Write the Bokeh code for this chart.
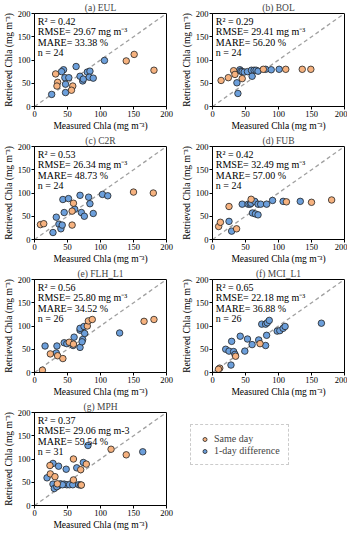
from bokeh.plotting import figure
from bokeh.models import Range1d, FixedTicker, Label, Legend, LegendItem
from bokeh.layouts import column, row
from bokeh.embed import file_html
from bokeh.resources import INLINE

FONT = "Liberation Serif"
ORANGE = "#F6B27F"
BLUE = "#6C9FDB"

# ---------------- data ----------------
titles = ["(a) EUL", "(b) BOL", "(c) C2R", "(d) FUB", "(e) FLH_L1", "(f) MCI_L1", "(g) MPH"]
r2 = ["0.42", "0.29", "0.53", "0.42", "0.56", "0.65", "0.37"]
rmse = ["29.67", "29.41", "26.34", "32.49", "25.80", "22.18", "29.06"]
rmse_unit = ["mg m⁻³", "mg m⁻³", "mg m⁻³", "mg m⁻³", "mg m⁻³", "mg m⁻³", "mg m-3"]
mare = ["33.38", "56.20", "48.73", "57.00", "34.52", "36.88", "59.54"]
n_obs = ["24", "24", "24", "24", "26", "26", "31"]
ticks = [0, 50, 100, 150, 200]
legend_labels = ["Same day", "1-day difference"]

# (a) EUL
eul_same_x = [32, 35, 34, 58, 56, 139, 151, 181]
eul_same_y = [70, 52, 44, 44, 35, 98, 112, 78]
eul_diff_x = [26, 47, 47, 44, 41, 46, 52, 63, 69, 73, 74, 80, 84, 83, 89, 106]
eul_diff_y = [26, 30, 48, 79, 75, 62, 62, 86, 65, 55, 59, 74, 76, 63, 61, 99]
# (b) BOL
bol_same_x = [13, 24, 32, 34, 45, 77, 111, 136, 149]
bol_same_y = [56, 62, 77, 69, 60, 80, 80, 80, 80]
bol_diff_x = [37, 38.5, 41.5, 43, 45, 48, 53, 59, 63, 60, 66, 69, 80.5, 89, 101]
bol_diff_y = [51, 28, 79, 76, 75, 74, 75, 78, 78, 65, 78, 76, 80, 79, 80]
# (c) C2R
c2r_same_x = [9, 14, 57, 59, 57, 150, 180]
c2r_same_y = [32, 34, 31, 78, 61, 102, 100]
c2r_diff_x = [28, 33, 37, 40, 42, 43, 45, 51.5, 61, 69, 71, 75.5, 82, 84, 89, 103, 111]
c2r_diff_y = [15, 48, 33, 23, 31, 86, 58, 88, 65, 95, 58, 50, 91, 77, 56, 97, 94]
# (d) FUB
fub_same_x = [9.3, 12, 25, 36.5, 58.5, 112, 150, 180.5]
fub_same_y = [28, 37, 71, 23, 86.5, 81, 80, 85]
fub_diff_x = [25, 29, 45, 54, 57, 58.5, 64, 60.5, 65, 69, 69, 73, 82, 91, 107, 133]
fub_diff_y = [39, 18, 76, 76, 76, 78, 82, 57, 55, 53, 76, 76, 76, 84, 82, 82]
# (e) FLH_L1
flh_same_x = [12, 24, 35, 43, 52.6, 59, 80, 81.6, 87.5, 166, 181]
flh_same_y = [5, 40, 36, 30, 65, 61, 100, 111, 114, 110, 114]
flh_diff_x = [16, 34, 33, 45, 49, 60, 58.5, 69, 69, 69, 73, 75, 76, 72, 129]
flh_diff_y = [57, 57, 42, 64, 62, 76, 58, 54, 91, 95, 71, 99, 84, 66, 85]
# (f) MCI_L1
mci_same_x = [11, 9, 35, 72]
mci_same_y = [9.4, 7, 35, 62]
mci_diff_x = [28, 20, 25, 32, 34, 29, 42, 53, 49, 60, 70, 80.5, 82, 74.6, 80.5, 83, 86, 98, 102, 107, 110, 165]
mci_diff_y = [16, 50, 46, 45, 39, 67, 78, 72, 46, 60, 70, 58, 80, 104, 104, 107, 112, 89, 90, 95, 99, 106]
# (g) MPH
mph_same_x = [23.4, 24, 31, 34.6, 59, 59, 70, 78.5, 116, 139, 71]
mph_same_y = [86, 68, 62, 46.6, 100, 55, 77, 89, 121, 109, 44]
mph_diff_x = [19, 28, 36.5, 48, 81, 74, 64, 164, 28, 30, 36, 39.5, 45, 49, 53, 58, 67, 70, 33.7, 42.4]
mph_diff_y = [59.5, 90.5, 84.5, 78, 129, 92.5, 81, 115.5, 46, 36.5, 42.5, 46.6, 46, 44.6, 44.6, 44.6, 44.6, 44, 40.5, 44.6]

panels = [
    (eul_same_x, eul_same_y, eul_diff_x, eul_diff_y),
    (bol_same_x, bol_same_y, bol_diff_x, bol_diff_y),
    (c2r_same_x, c2r_same_y, c2r_diff_x, c2r_diff_y),
    (fub_same_x, fub_same_y, fub_diff_x, fub_diff_y),
    (flh_same_x, flh_same_y, flh_diff_x, flh_diff_y),
    (mci_same_x, mci_same_y, mci_diff_x, mci_diff_y),
    (mph_same_x, mph_same_y, mph_diff_x, mph_diff_y),
]

ROW_H = 133
LEFT_W, RIGHT_W = 178, 169


def make_panel(i):
    sx, sy, dx, dy = panels[i]
    left_col = (i % 2 == 0)
    p = figure(width=LEFT_W if left_col else RIGHT_W, height=ROW_H,
               output_backend="svg", toolbar_location=None,
               x_range=Range1d(0, 200), y_range=Range1d(0, 200),
               min_border_left=30 if left_col else 32,
               min_border_right=12 if left_col else 3,
               min_border_top=0, min_border_bottom=0,
               title=titles[i])
    p.title.align = "center"
    p.title.text_font = FONT
    p.title.text_font_size = "9.5px"
    p.title.text_font_style = "normal"
    p.title.standoff = 1
    p.title.offset = 0
    p.grid.visible = False
    p.outline_line_color = "black"
    p.outline_line_width = 1
    p.outline_line_alpha = 1
    for ax in (p.xaxis[0], p.yaxis[0]):
        ax.ticker = FixedTicker(ticks=ticks)
        ax.minor_tick_line_color = None
        ax.major_tick_in = 0
        ax.major_tick_out = 3
        ax.axis_line_color = "black"
        ax.major_tick_line_color = "black"
        ax.major_label_text_font = FONT
        ax.major_label_text_font_size = "8.5px"
        ax.major_label_text_color = "black"
        ax.major_label_standoff = 1
        ax.axis_label_text_font = FONT
        ax.axis_label_text_font_size = "9.5px"
        ax.axis_label_text_font_style = "normal"
        ax.axis_label_text_color = "black"
        ax.axis_label_standoff = 1
    p.xaxis.axis_label = "Measured Chla (mg m⁻³)"
    p.yaxis.axis_label = "Retrieved Chla (mg m⁻³)"

    p.line([0, 200], [0, 200], line_color="#A0A0A0", line_width=1.3, line_dash="4 3")
    p.scatter(dx, dy, size=6.5, fill_color=BLUE, line_color="#222222", line_width=0.8)
    p.scatter(sx, sy, size=6.5, fill_color=ORANGE, line_color="#222222", line_width=0.8)

    lines = ["R² = " + r2[i],
             "RMSE= " + rmse[i] + " " + rmse_unit[i],
             "MARE= " + mare[i] + " %",
             "n = " + n_obs[i]]
    for k, t in enumerate(lines):
        p.add_layout(Label(x=5, y=183 - 22.3 * k, text=t, text_font=FONT,
                           text_font_size="10px", text_baseline="middle",
                           text_color="black"))
    return p


figs = [make_panel(i) for i in range(7)]

# legend panel
lp = figure(width=RIGHT_W, height=ROW_H, output_backend="svg", toolbar_location=None,
            x_range=Range1d(0, 1), y_range=Range1d(0, 1),
            min_border_left=0, min_border_top=0, min_border_right=0, min_border_bottom=0)
lp.axis.visible = False
lp.grid.visible = False
lp.outline_line_color = None
r_same = lp.scatter([-5], [-5], size=6.5, fill_color=ORANGE, line_color="#222222", line_width=0.8)
r_diff = lp.scatter([-5], [-5], size=6.5, fill_color=BLUE, line_color="#222222", line_width=0.8)
leg = Legend(items=[LegendItem(label=legend_labels[0], renderers=[r_same]),
                    LegendItem(label=legend_labels[1], renderers=[r_diff])],
             location="top_left")
leg.label_text_font = FONT
leg.label_text_font_size = "10px"
leg.label_height = 10
leg.glyph_height = 10
leg.glyph_width = 11
leg.spacing = 1
leg.padding = 8
leg.margin = 12
leg.label_standoff = 4
leg.border_line_color = "#999999"
leg.border_line_dash = "4 3"
leg.border_line_width = 1.2
leg.background_fill_color = "white"
leg.background_fill_alpha = 1
lp.add_layout(leg)

layout = column(row(figs[0], figs[1]), row(figs[2], figs[3]),
                row(figs[4], figs[5]), row(figs[6], lp))

open("out.html", "w").write(file_html(layout, INLINE))
